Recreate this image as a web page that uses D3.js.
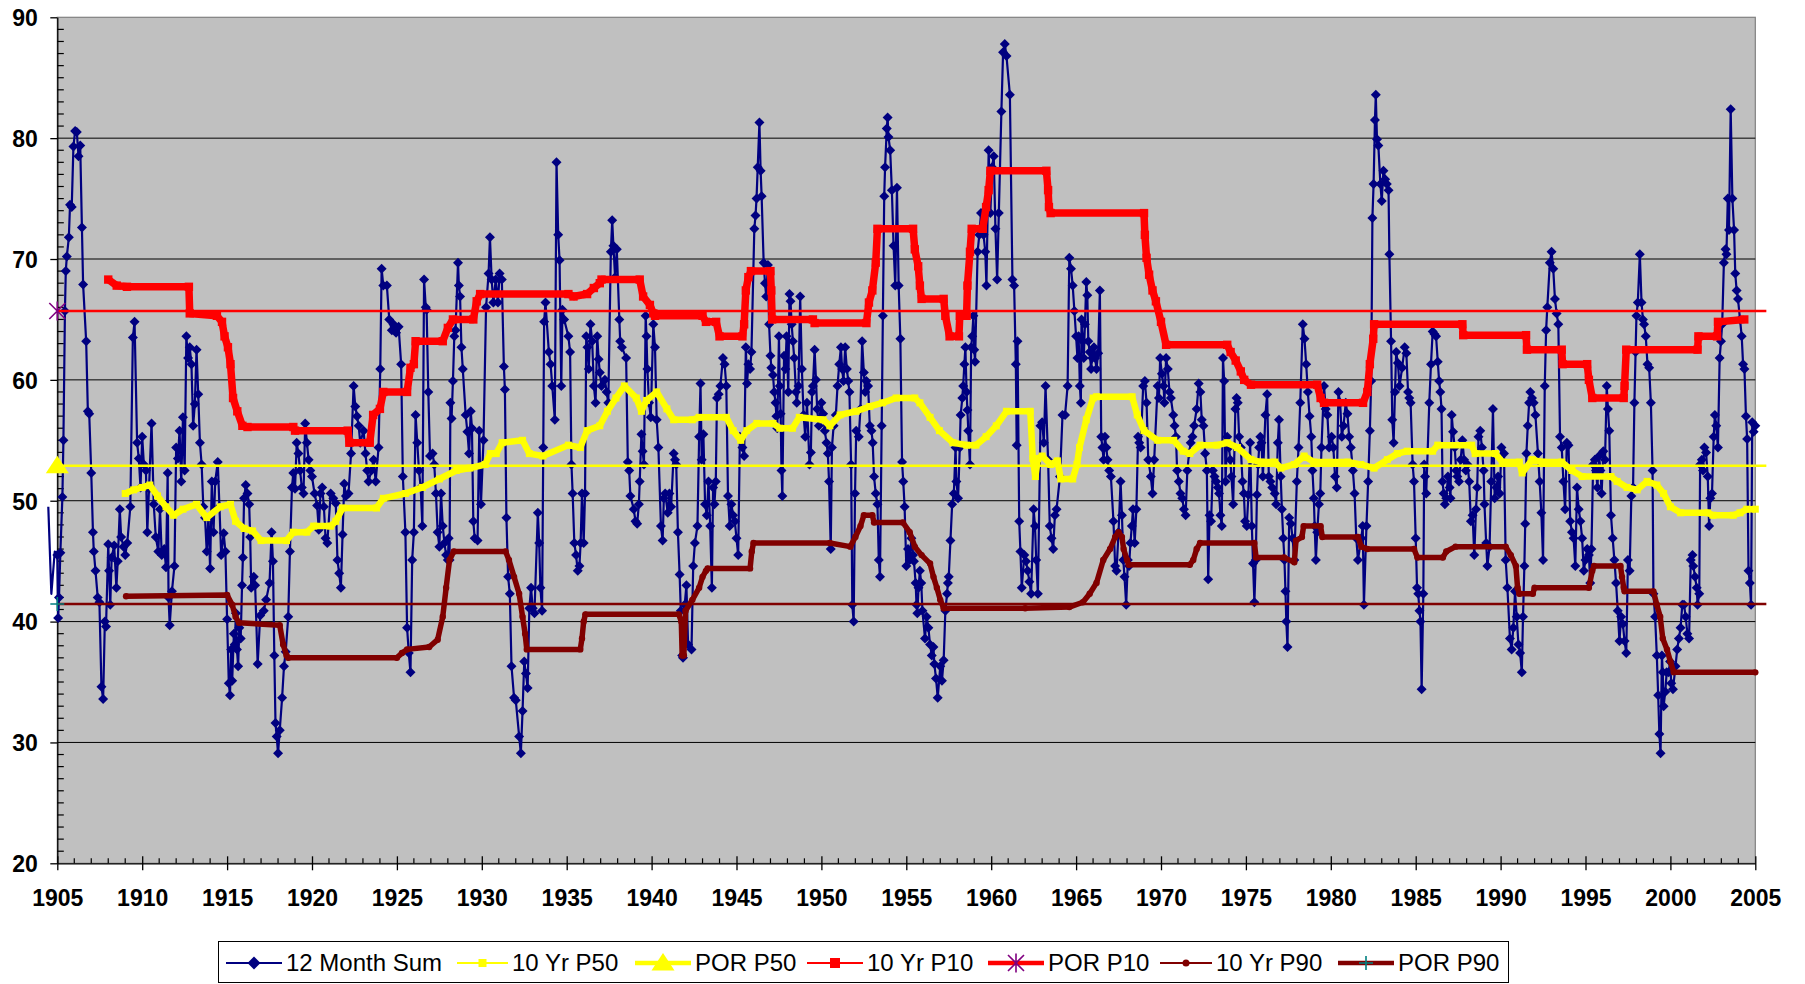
<!DOCTYPE html>
<html>
<head>
<meta charset="utf-8">
<script src="https://cdn.jsdelivr.net/npm/d3@7"></script>
<style>
  html, body { margin: 0; padding: 0; background: #ffffff; }
  svg { display: block; font-family: "Liberation Sans", Arial, sans-serif; }
</style>
</head>
<body>
<svg id="chart" width="1805" height="984"></svg>
<script>
// ---- data: [decimal year, value] ----
const monthSum = [
  [1904.47,49.5],[1904.65,42.3],[1904.85,45.8],
  [1905.0,45.5],[1905.05,40.3],[1905.1,42],[1905.18,45.7],[1905.3,50.3],[1905.36,55],[1905.45,65.7],[1905.5,69],[1905.56,70.2],[1905.68,71.8],[1905.75,74.5],[1905.85,74.3],[1905.95,79.3],[1906.05,80.6],[1906.15,80.5],[1906.25,78.5],[1906.35,79.4],[1906.45,72.6],[1906.52,67.9],[1906.7,63.2],[1906.8,57.4],[1906.88,57.2],[1907.0,52.3],[1907.1,47.4],[1907.15,45.8],[1907.25,44.2],[1907.38,42],[1907.48,41.6],[1907.6,34.6],[1907.7,33.6],[1907.8,40],[1907.87,39.6],[1908.0,46.4],[1908.05,44.2],[1908.12,41.4],[1908.2,45.3],[1908.35,46.3],[1908.48,42.8],[1908.56,45],[1908.68,49.3],[1908.76,47],[1908.9,46.2],[1909.0,45.5],[1909.12,46.5],[1909.3,49.5],[1909.45,63.5],[1909.55,64.8],[1909.7,54.8],[1909.8,53.5],[1909.9,51.1],
  [1910.0,55.3],[1910.1,53],[1910.22,52.5],[1910.3,47.4],[1910.4,51],[1910.55,56.4],[1910.68,49.7],[1910.8,47],[1910.95,45.8],[1911.05,49.3],[1911.15,45.5],[1911.3,46],[1911.4,44.5],[1911.5,52.3],[1911.55,42],[1911.62,39.7],[1911.75,42.5],[1911.9,44.6],[1912.0,54.4],[1912.1,53.5],[1912.2,55.8],[1912.3,51.6],[1912.4,56.9],[1912.5,52.5],[1912.6,63.6],[1912.7,61.8],[1912.8,62.7],[1912.9,61.3],[1913.0,56.2],[1913.1,58],[1913.2,62.5],[1913.3,58.8],[1913.4,54.8],[1913.5,53],[1913.6,49.5],[1913.7,48.6],[1913.8,45.8],[1913.9,48.6],[1914.0,44.4],[1914.1,51.6],[1914.2,47.4],[1914.3,51.6],[1914.45,53.2],[1914.55,49.5],[1914.65,45.5],[1914.8,47.3],[1914.9,45.8],[1915.0,40.2],[1915.1,34.9],[1915.17,33.9],[1915.24,37.7],[1915.3,35.1],[1915.4,39],[1915.45,38.1],
  [1915.52,40.7],[1915.58,37.7],[1915.65,36.3],[1915.72,39.5],[1915.8,38.6],[1915.88,43],[1915.93,45.3],[1916.0,50.2],[1916.1,51.3],[1916.2,50.6],[1916.3,49.7],[1916.36,47],[1916.42,42.8],[1916.57,43.7],[1916.65,43],[1916.8,36.5],[1916.95,40.5],[1917.16,40.9],[1917.3,41.8],[1917.5,43.2],[1917.62,47.4],[1917.7,45],[1917.78,37.2],[1917.85,31.6],[1917.92,30.5],[1918.0,29.1],[1918.1,31],[1918.24,33.7],[1918.35,36.3],[1918.45,37.5],[1918.6,40.4],[1918.7,45.8],[1918.82,51.1],[1918.9,52.3],[1919.0,51],[1919.1,54.8],[1919.2,53.9],[1919.3,52.5],[1919.4,51.1],[1919.5,50.6],[1919.6,56.4],[1919.7,54.8],[1919.8,53.4],[1919.9,52.5],[1920.0,52],[1920.15,50.6],[1920.3,49.6],[1920.4,47.6],[1920.5,50.6],[1920.6,51.1],[1920.7,49.5],[1920.8,46.9],[1920.9,46.5],[1921.1,50.6],[1921.25,50.2],[1921.4,49.8],[1921.5,45.1],[1921.6,44],[1921.7,42.8],[1921.8,47.2],[1921.9,51.4],[1922.0,50.4],[1922.15,50.6],[1922.3,53.9],[1922.45,59.5],[1922.55,57.8],[1922.65,57],[1922.75,56.2],[1922.84,54.8],[1923.04,55.8],[1923.15,53.9],[1923.25,52.5],[1923.33,51.6],[1923.5,52.5],[1923.63,53.4],[1923.75,51.6],[1923.92,54.4],[1924.02,60.9],[1924.1,69.2],[1924.2,67.8],[1924.41,67.8],[1924.55,65],[1924.7,64.1],[1924.8,64.6],[1924.95,63.9],[1925.1,64.4],[1925.25,61.3],[1925.35,52],[1925.5,47.4],[1925.6,39.5],[1925.7,37.4],[1925.8,35.8],
  [1925.9,45.1],[1926.0,47.4],[1926.1,57.1],[1926.2,54.8],[1926.3,52.5],[1926.4,51.1],[1926.5,47.9],[1926.6,68.3],[1926.7,66],[1926.75,65.8],[1926.85,59],[1926.95,53.7],[1927.1,53.9],[1927.2,53],[1927.3,50.6],[1927.4,47.4],[1927.5,46.2],[1927.6,50.6],[1927.7,47.9],[1927.8,46.5],[1927.9,45.5],[1928.0,45.1],[1928.05,46.9],[1928.1,45.1],[1928.15,58.1],[1928.22,56.8],[1928.3,59.9],[1928.38,63.6],[1928.45,64.1],[1928.6,69.7],[1928.65,67.8],[1928.72,66.9],[1928.8,62.7],[1928.88,60.9],[1929.05,57.1],[1929.15,55.7],[1929.25,53.9],[1929.35,57.4],[1929.42,56],[1929.5,48.3],[1929.58,46.9],[1929.75,46.7],[1929.85,55.8],[1929.95,49.7],[1930.1,55],[1930.25,66],[1930.4,68.8],[1930.48,71.8],[1930.58,68.3],[1930.68,66.4],[1930.82,68.3],[1930.95,66.4],[1931.05,68.8],[1931.18,68.3],[1931.3,61.1],[1931.36,59.2],[1931.45,48.6],[1931.55,43.7],[1931.65,42.3],[1931.75,36.3],[1931.9,33.7],[1932.0,33.5],[1932.2,30.5],[1932.3,29.1],[1932.4,32.6],[1932.5,36.7],[1932.6,35.7],[1932.7,34.5],[1932.8,41.1],[1932.9,42.8],[1933.0,41.1],[1933.1,40.7],[1933.3,49],[1933.38,46.5],[1933.45,42.8],[1933.55,40.9],[1933.62,54.4],[1933.67,64.8],[1933.75,66.4],[1933.95,62.3],[1934.05,61.3],[1934.15,59.5],[1934.3,56.7],[1934.4,78],[1934.5,72],[1934.58,69.9],[1934.68,59.5],[1934.75,65.8],[1934.85,65],[1935.1,63.6],[1935.2,62.3],[1935.28,53],[1935.35,50.6],[1935.45,46.5],[1935.55,45.5],[1935.65,44.2],
  [1935.75,44.6],[1935.82,46.5],[1935.9,50.6],[1936.0,46.5],[1936.08,50.6],[1936.15,63.6],[1936.22,62.7],[1936.3,60.9],[1936.4,64.6],[1936.5,63.2],[1936.6,59.5],[1936.7,58.1],[1936.8,63.6],[1936.88,61.7],[1936.95,60.6],[1937.05,59.5],[1937.25,60],[1937.35,59],[1937.45,58.1],[1937.6,70.6],[1937.68,73.2],[1937.75,71.1],[1937.85,68.5],[1937.95,70.8],[1938.1,65],[1938.15,63.2],[1938.25,62.7],[1938.5,61.8],[1938.6,53.2],[1938.68,52.5],[1938.75,50.4],[1938.95,49.3],[1939.05,48.3],[1939.15,48.1],[1939.25,49.7],[1939.3,51.6],[1939.4,55.5],[1939.47,54.1],[1939.55,53],[1939.65,65.3],[1939.7,63.6],[1939.75,60.9],[1939.85,58.1],[1939.95,56.9],[1940.1,64.6],[1940.2,62.7],[1940.3,56.7],[1940.4,54.4],[1940.55,47.9],[1940.65,46.7],[1940.72,50.2],[1940.8,50.6],[1940.95,49],[1941.05,50.6],[1941.15,49.5],[1941.3,53.9],[1941.38,53.4],[1941.45,53],[1941.55,47.4],[1941.65,43.9],[1941.72,40.9],[1941.8,37.2],[1941.85,37],[1941.95,41.4],[1942.05,43],[1942.15,38.1],[1942.35,37.7],[1942.45,44.6],[1942.55,46.5],[1942.7,47.9],[1942.8,55.3],[1942.88,59.7],[1942.95,53.4],[1943.05,55.5],[1943.15,49.7],[1943.25,48.8],[1943.35,51.6],[1943.45,47.9],[1943.55,42.8],[1943.62,51.1],[1943.7,49.7],[1943.78,51.6],[1943.85,58.5],[1943.95,58.8],[1944.05,59.5],[1944.2,61.8],[1944.3,61.3],[1944.4,59.5],[1944.5,50.4],[1944.6,47.9],[1944.7,49.7],[1944.8,48.8],[1944.9,48.3],[1945.0,46.9],[1945.1,45.5],[1945.2,55.3],[1945.35,54.4],[1945.45,53.7],[1945.55,62.7],
  [1945.62,59.7],[1945.7,61.3],[1945.8,60.9],[1945.88,62.3],[1946.05,72.5],[1946.12,73.6],[1946.18,75],[1946.25,77.6],[1946.35,81.3],[1946.42,77.3],[1946.48,75.2],[1946.6,69.7],[1946.68,68],[1946.75,66.9],[1946.85,69.5],[1946.92,64.6],[1947.0,62],[1947.05,61],[1947.15,60.4],[1947.22,59],[1947.3,58.1],[1947.35,57],[1947.4,56],[1947.5,63.6],[1947.55,59.5],[1947.6,57.2],[1947.65,52.5],[1947.7,50.4],[1947.8,62],[1947.88,60.9],[1947.95,63.6],[1948.05,59],[1948.12,67.1],[1948.18,66.5],[1948.25,64.6],[1948.32,63.2],[1948.4,61.8],[1948.5,59],[1948.55,58.1],[1948.65,59.5],[1948.75,66.9],[1948.85,60.9],[1948.95,57.1],[1949.05,55.3],[1949.15,58.1],[1949.3,53],[1949.38,54],[1949.45,59],[1949.5,59.5],[1949.6,62.5],[1949.68,60],[1949.75,57.6],[1949.85,56.2],[1950.0,58.1],[1950.1,57.2],[1950.2,55.8],[1950.3,54.8],[1950.38,53.9],[1950.45,51.6],[1950.55,46],[1950.62,54.4],[1950.72,56.2],[1950.85,57.1],[1950.95,59.5],[1951.05,61.3],[1951.15,62.7],[1951.22,60.9],[1951.3,59.9],[1951.4,62.7],[1951.5,60.9],[1951.58,59.9],[1951.65,59],[1951.75,53],[1951.82,41.4],[1951.9,40],[1951.98,50.6],[1952.05,55.8],[1952.2,55.3],[1952.3,57.6],[1952.4,63.2],[1952.5,60.6],[1952.58,59],[1952.65,59.9],[1952.75,59.5],[1952.85,56.2],[1952.95,55.8],[1953.02,54.8],[1953.1,52],[1953.2,50.6],[1953.3,49.7],[1953.38,45.1],[1953.45,43.7],[1953.55,56.2],[1953.62,65.3],[1953.7,75.2],[1953.75,77.6],[1953.85,80.8],[1953.9,81.7],[1953.95,80.1],[1954.05,79],[1954.15,75.7],[1954.25,71.1],[1954.35,67.8],[1954.45,75.9],[1954.55,67.8],[1954.65,63.4],[1954.75,53.2],[1954.82,51.6],[1954.9,49.5],[1955.0,44.6],[1955.1,46],[1955.2,45.1],[1955.3,46.9],[1955.4,45.5],[1955.45,45],[1955.55,43.2],
  [1955.6,41.4],[1955.65,40.7],[1955.72,42.8],[1955.8,44.2],[1955.88,43.2],[1955.95,40.9],[1956.1,38.6],[1956.2,40.4],[1956.3,39.5],[1956.4,38.1],[1956.5,37.2],[1956.6,37.9],[1956.65,36.5],[1956.75,35.3],[1956.85,33.7],[1957.0,36.3],[1957.1,35.1],[1957.2,36.8],[1957.3,40.9],[1957.4,42.3],[1957.45,43.2],[1957.5,43.7],[1957.6,46.7],[1957.7,49.7],[1957.8,50.6],[1957.9,54.4],[1957.95,51.6],[1958.05,50.2],[1958.15,54.4],[1958.2,57.1],[1958.3,58.5],[1958.35,59.5],[1958.42,61.3],[1958.48,62.7],[1958.55,59],[1958.6,57.5],[1958.65,55.8],[1958.75,53],[1958.82,62.7],[1958.88,63.6],[1958.95,65.3],[1959.0,62.5],[1959.05,61.5],[1959.2,70.6],[1959.3,72],[1959.4,73.8],[1959.55,72],[1959.65,70.6],[1959.72,67.8],[1959.85,79],[1959.95,73.8],[1960.05,77.6],[1960.15,78.5],[1960.25,72.5],[1960.35,68.3],[1960.45,73.8],[1960.6,82.2],[1960.7,87.1],[1960.8,87.8],[1960.9,86.8],[1961.1,83.6],[1961.25,68.3],[1961.35,67.8],[1961.45,61.3],[1961.5,54.6],[1961.55,63.2],[1961.65,48.3],[1961.72,45.8],[1961.8,42.8],[1961.95,45.5],[1962.05,45],[1962.15,44.2],[1962.25,43.3],[1962.35,42.3],[1962.5,49.3],[1962.58,47.9],[1962.65,45.1],[1962.75,42.3],[1962.9,56.2],[1963.0,56.5],[1963.1,54.8],[1963.2,59.5],[1963.35,53.4],[1963.45,47.9],[1963.55,46.9],[1963.65,46],[1963.75,48.8],[1963.85,49.3],[1964.05,52],[1964.2,57.1],[1964.35,57.1],[1964.5,59.5],[1964.6,70.1],[1964.7,69.2],[1964.8,67.8],[1964.9,65.7],[1965.0,63.6],[1965.08,61.8],
  [1965.15,63.6],[1965.22,59.5],[1965.28,58.1],[1965.32,65],[1965.4,63.2],[1965.45,61.8],[1965.52,64.6],[1965.6,68.1],[1965.66,67],[1965.72,63.2],[1965.8,62.3],[1965.88,60.9],[1965.95,61.8],[1966.05,62.7],[1966.12,61.8],[1966.2,60.9],[1966.3,62.2],[1966.4,67.4],[1966.48,55.3],[1966.55,54.4],[1966.62,53.4],[1966.7,55.3],[1966.78,54.4],[1966.85,53.4],[1966.95,52.5],[1967.05,52],[1967.2,48.3],[1967.3,44.6],[1967.38,44.2],[1967.5,47.4],[1967.62,51.6],[1967.7,48.8],[1967.78,45.1],[1967.85,43.7],[1967.95,41.4],[1968.05,45.1],[1968.12,44.6],[1968.2,46.5],[1968.28,47.9],[1968.35,49.3],[1968.45,46.5],[1968.55,49.3],[1968.65,55.3],[1968.72,54.8],[1968.8,54.4],[1968.95,59.5],[1969.05,59.9],[1969.15,58.1],[1969.25,53.4],[1969.4,52],[1969.5,50.6],[1969.6,53.4],[1969.8,59.5],[1969.88,58.5],[1969.95,61.8],[1970.05,60.5],[1970.15,59.5],[1970.2,58.1],[1970.3,61.8],[1970.4,60.9],[1970.5,59],[1970.58,58.5],[1970.72,57.1],[1970.8,56.2],[1970.88,55.3],[1970.95,52.5],[1971.05,51.6],[1971.15,50.6],[1971.25,50.2],[1971.35,49.3],[1971.45,48.8],[1971.55,52.5],[1971.65,53.9],[1971.75,54.8],[1971.85,55.3],[1971.95,56.2],[1972.1,57.6],[1972.22,59.7],[1972.32,59],[1972.4,56.7],[1972.5,56.2],[1972.6,53.9],[1972.7,52.5],[1972.78,43.5],[1972.86,48.8],[1972.95,48.3],[1973.05,52.5],[1973.15,52],[1973.25,51.6],[1973.35,51.1],[1973.42,50.6],[1973.5,48.8],[1973.58,47.9],[1973.65,61.8],[1973.72,59.9],[1973.8,51.6],[1973.9,55.3],[1974.0,54.4],[1974.08,53.4],[1974.15,52],[1974.25,49.7],[1974.38,57.6],[1974.45,58.5],[1974.52,58.1],[1974.6,55.3],[1974.7,54.4],[1974.8,51.6],[1974.88,50.6],[1974.95,48.3],[1975.05,47.9],[1975.15,50.5],[1975.25,54.8],[1975.35,47.9],[1975.42,44.8],[1975.5,41.6],[1975.58,45.1],[1975.65,50.5],
  [1975.72,53],[1975.78,54.4],[1975.85,55.3],[1975.92,54.8],[1976.0,52],[1976.15,57.1],[1976.25,58.8],[1976.35,52],[1976.45,51.6],[1976.55,51.1],[1976.7,50.6],[1976.78,49.7],[1976.88,54.8],[1976.95,56.7],[1977.05,52],[1977.12,49.3],[1977.2,46.9],[1977.27,45.1],[1977.33,42.5],[1977.38,40],[1977.45,37.9],[1977.55,48.6],[1977.65,48.1],[1977.75,46.9],[1977.85,45.1],[1978.0,51.6],[1978.1,54.4],[1978.2,58.1],[1978.35,64.6],[1978.45,63.4],[1978.55,61.3],[1978.65,59],[1978.75,57],[1978.85,55.3],[1978.92,52.5],[1979.0,50.2],[1979.05,47.9],[1979.12,45.1],[1979.2,47.4],[1979.3,49.7],[1979.38,50.6],[1979.45,54.4],[1979.6,59.5],[1979.7,57.6],[1979.8,57.1],[1979.9,54.4],[1980.05,55.3],[1980.15,54.4],[1980.25,52],[1980.35,51.1],[1980.45,59],[1980.55,58.1],[1980.65,55.3],[1980.75,56.2],[1980.88,58.1],[1980.98,57.2],[1981.08,55.3],[1981.18,54.4],[1981.3,52.5],[1981.4,50.6],[1981.5,46.9],[1981.6,45.1],[1981.8,46.9],[1981.88,47.9],[1981.95,41.4],[1982.1,47.9],[1982.2,51.6],[1982.3,55.8],[1982.38,59.9],[1982.45,73.4],[1982.52,76.2],[1982.6,81.5],[1982.65,83.6],[1982.72,79.9],[1982.8,79.4],[1982.92,76.2],[1983.0,74.8],[1983.1,77.3],[1983.2,76.6],[1983.3,76.2],[1983.4,75.7],[1983.45,70.4],[1983.55,63.2],[1983.62,56.7],[1983.7,54.8],[1983.78,59],[1983.85,62.3],[1983.95,61.4],[1984.05,59.5],[1984.2,61],[1984.35,62.7],[1984.45,62.2],[1984.55,59],[1984.62,58.5],[1984.7,58.1],[1984.82,53],[1984.9,51.6],[1985.0,46.9],[1985.08,42.8],[1985.15,42.3],[1985.22,40.9],[1985.28,40],[1985.35,34.4],[1985.45,42.3],[1985.5,53],[1985.55,52],[1985.62,50.6],
  [1985.8,58.1],[1985.9,61.3],[1986.0,64],[1986.1,63.8],[1986.2,63.6],[1986.3,61.5],[1986.38,59.9],[1986.45,59],[1986.52,57.6],[1986.58,51.6],[1986.65,50.6],[1986.72,49.7],[1986.8,50.2],[1986.9,52],[1987.0,51.1],[1987.05,50.2],[1987.12,57.1],[1987.2,55.7],[1987.3,54.4],[1987.38,52.5],[1987.45,52],[1987.55,51.6],[1987.65,53.4],[1987.75,55],[1987.85,53.4],[1987.95,52.5],[1988.05,53],[1988.15,51.6],[1988.25,48.3],[1988.35,48.8],[1988.45,45.5],[1988.55,49.3],[1988.62,51.1],[1988.7,55.3],[1988.8,55.8],[1988.9,54.4],[1989.0,52.5],[1989.05,49.7],[1989.15,46.5],[1989.22,44.6],[1989.35,46.2],[1989.45,51.6],[1989.55,57.6],[1989.65,50.2],[1989.75,51.1],[1989.85,52],[1989.95,50.6],[1990.05,54.4],[1990.2,53.9],[1990.3,45.1],[1990.4,42.8],[1990.55,38.6],[1990.65,37.7],[1990.75,39.5],[1990.85,42.5],[1990.95,40.4],[1991.05,38.1],[1991.15,37.4],[1991.25,35.8],[1991.32,40.4],[1991.4,44.6],[1991.45,48.1],[1991.52,53.9],[1991.6,56.2],[1991.68,58.1],[1991.75,59],[1991.85,58.5],[1991.95,58.1],[1992.05,57.1],[1992.2,53.9],[1992.3,51.6],[1992.4,49],[1992.5,45.1],[1992.6,59.5],[1992.68,64.1],[1992.75,66],[1992.9,69.7],[1993.0,70.6],[1993.1,69.2],[1993.2,66.7],[1993.3,65.5],[1993.4,64.6],[1993.5,55.3],[1993.6,54.4],[1993.7,51.6],[1993.8,49.3],[1993.9,54.8],[1994.0,54.6],[1994.1,48.3],[1994.2,47.4],[1994.3,46.9],[1994.4,44.6],[1994.5,51.1],[1994.6,49.3],[1994.7,48.3],[1994.8,46.9],[1994.9,44.2],[1995.0,45.1],[1995.1,46],[1995.2,45.5],[1995.28,43.2],[1995.35,46],[1995.45,53],[1995.55,53.4],[1995.62,52.5],
  [1995.7,51.1],[1995.8,53.7],[1995.88,52.5],[1995.95,50.6],[1996.05,54.1],[1996.15,53.4],[1996.25,59.5],[1996.32,57.6],[1996.4,55.8],[1996.5,48.8],[1996.6,46.9],[1996.7,45.1],[1996.8,43.2],[1996.9,40.9],[1997.0,38.4],[1997.1,40.4],[1997.2,39.8],[1997.3,38.4],[1997.4,37.4],[1997.5,45.1],[1997.6,44.2],[1997.7,50.4],[1997.8,51.1],[1997.88,58.1],[1997.95,62.3],[1998.0,65.3],[1998.08,66.4],[1998.2,70.4],[1998.3,66.4],[1998.38,65],[1998.45,64.6],[1998.55,63.6],[1998.65,61.3],[1998.75,61],[1998.85,58.1],[1998.95,52.5],[1999.0,42.3],[1999.1,40.4],[1999.2,37.2],[1999.28,33.9],[1999.35,30.7],[1999.42,29.1],[1999.5,37.2],[1999.55,35.8],[1999.6,33],[1999.7,34.2],[1999.78,35.8],[1999.9,35.8],[1999.98,36.7],[2000.05,34.9],[2000.15,34.4],[2000.3,36.3],[2000.4,37.7],[2000.5,38.6],[2000.6,39.5],[2000.7,41.4],[2000.8,41.4],[2000.9,40.4],[2001.0,39],[2001.1,38.6],[2001.2,45.1],[2001.3,45.5],[2001.35,44.6],[2001.45,43.7],[2001.55,42.8],[2001.6,41.4],[2001.7,42.3],[2001.75,53],[2001.85,53.4],[2001.92,52.5],[2002.0,54.4],[2002.1,54],[2002.2,52],[2002.28,47.9],[2002.35,50.2],[2002.45,50.6],[2002.55,55.3],[2002.62,57.1],[2002.7,56.2],[2002.8,54.4],[2002.9,61.8],[2002.98,63.2],[2003.05,64.6],[2003.15,69.7],[2003.25,70.8],[2003.3,70.4],[2003.38,75],[2003.45,72.4],[2003.55,82.4],[2003.65,75],[2003.75,72.4],[2003.82,68.8],[2003.9,67.4],[2003.98,66.7],[2004.1,65],[2004.2,63.6],[2004.28,61.3],[2004.36,60.9],[2004.45,57],[2004.52,55.1],[2004.6,44.2],[2004.68,43.2],[2004.75,41.4],[2004.82,56.5],[2004.9,55.7],[2005.0,56.2]
];

const tenYearP50 = [
  [1909.0,50.6],[1909.5,50.9],[1910.0,51.1],[1910.45,51.3],[1910.9,50.4],[1911.4,49.5],[1911.85,48.8],[1912.4,49.3],[1913.2,49.7],[1913.8,48.6],[1914.6,49.5],[1915.2,49.7],[1915.5,48.3],[1916.0,47.7],[1916.5,47.5],[1917.0,46.7],[1918.5,46.7],[1918.9,47.4],[1919.7,47.4],[1920.1,47.9],[1921.1,47.9],[1921.4,48.3],[1921.8,49.4],[1923.8,49.4],[1924.2,50.2],[1925.5,50.6],[1926.5,51.1],[1927.5,51.8],[1928.5,52.5],[1929.3,52.7],[1930.2,53],[1930.5,53.9],[1930.85,53.9],[1931.2,54.8],[1932.4,55],[1932.8,53.9],[1933.6,53.7],[1935.1,54.6],[1935.8,54.4],[1936.2,55.8],[1936.95,56.2],[1937.4,57.4],[1937.9,58.5],[1938.4,59.5],[1939.1,58.5],[1939.4,57.4],[1939.7,58.3],[1940.3,59],[1940.9,57.6],[1941.3,56.7],[1942.4,56.7],[1942.8,56.9],[1944.4,56.9],[1944.8,55.8],[1945.25,55],[1945.6,55.8],[1946.2,56.4],[1947.15,56.4],[1947.55,56],[1948.3,56],[1948.7,56.9],[1950.1,56.7],[1950.5,56.2],[1951.1,57.1],[1952.05,57.4],[1952.85,57.8],[1953.6,58.1],[1954.4,58.5],[1955.5,58.5],[1955.8,58.1],[1956.4,56.9],[1956.95,55.8],[1957.75,54.8],[1958.55,54.6],[1959.1,54.6],[1959.7,55.3],[1960.3,56.2],[1960.9,57.4],[1962.3,57.4],[1962.45,53.5],[1962.6,52],[1962.75,53.5],[1963.0,53.7],[1963.5,53],[1963.9,53.3],[1964.1,51.8],[1964.8,51.8],[1965.05,53],[1965.2,54.4],[1965.6,56.7],[1966.0,58.5],[1966.2,58.6],[1968.3,58.6],[1968.6,57.1],[1969.0,55.8],[1969.8,55],[1970.75,55],[1971.3,54.1],[1971.7,53.9],[1972.3,54.6],[1973.3,54.6],[1973.9,54.8],[1974.5,54.4],[1975.3,53.4],[1975.9,53.2],[1976.7,53.2],[1977.06,52.7],[1977.85,53],[1978.43,53.7],[1979.0,53.2],[1981.0,53.2],[1981.76,53],[1982.55,52.7],[1983.33,53.4],[1983.92,53.9],[1984.5,54.1],[1986.0,54.1],[1986.3,54.6],[1988.3,54.6],[1988.5,53.9],[1989.7,53.9],[1990.1,53.2],[1991.1,53.2],[1991.27,52.3],[1991.86,53.4],[1992.45,53.2],[1993.6,53.2],[1994.2,52.5],[1994.8,52],[1996.5,52],[1996.86,51.6],[1997.45,51.1],[1998.04,50.9],[1998.63,51.6],[1999.2,51.3],[1999.6,50.6],[2000.0,49.5],[2000.6,49],[2002.2,49],[2002.5,48.8],[2003.7,48.8],[2004.1,49],[2004.5,49.3],[2005.0,49.3]
];

const tenYearP10 = [
  [1908.0,68.3],[1908.5,67.8],[1909.1,67.7],[1912.75,67.7],[1912.8,65.5],[1914.4,65.3],[1914.7,64.8],[1914.85,63.6],[1915.05,62.7],[1915.2,61.3],[1915.35,58.5],[1915.6,57.4],[1915.9,56.2],[1916.2,56.1],[1918.9,56.1],[1919.0,55.8],[1922.1,55.8],[1922.2,54.8],[1923.4,54.8],[1923.6,57.1],[1924.0,57.6],[1924.2,59],[1925.6,59],[1925.8,61],[1926.0,61.3],[1926.1,63.2],[1927.7,63.2],[1928.0,64.3],[1928.3,65],[1929.5,65],[1929.7,66.5],[1929.9,67.1],[1935.1,67.1],[1935.4,66.9],[1936.2,67.1],[1936.6,67.6],[1936.95,68.0],[1937.05,68.3],[1939.3,68.3],[1939.5,66.9],[1939.9,66.2],[1940.1,65.5],[1940.2,65.3],[1943.0,65.3],[1943.2,64.8],[1943.8,64.8],[1944.0,63.6],[1945.35,63.6],[1945.45,64.6],[1945.55,67.4],[1945.7,68.5],[1945.85,69],[1947.0,69],[1947.05,67.4],[1947.1,65],[1949.5,65],[1949.6,64.7],[1952.65,64.7],[1952.8,66.4],[1953.0,67.4],[1953.2,69.7],[1953.3,72.5],[1955.4,72.5],[1955.5,70.8],[1955.7,69.4],[1955.8,67.8],[1955.9,66.7],[1957.2,66.7],[1957.3,65.3],[1957.55,63.6],[1958.1,63.6],[1958.15,65.3],[1958.55,65.3],[1958.6,67.8],[1958.75,70.6],[1958.85,72.5],[1959.5,72.5],[1959.7,74.3],[1959.85,75.7],[1959.95,77.3],[1963.25,77.3],[1963.35,75.7],[1963.4,74.3],[1963.5,73.8],[1969.0,73.8],[1969.05,72],[1969.15,70.1],[1969.3,68.7],[1969.5,67.4],[1969.7,66.5],[1970.0,64.8],[1970.3,62.9],[1973.9,62.9],[1974.1,62.3],[1974.4,61.6],[1974.7,60.7],[1974.9,60],[1975.3,59.6],[1979.2,59.6],[1979.4,58.5],[1979.6,58.1],[1981.9,58.1],[1982.15,59],[1982.3,61.3],[1982.5,63.4],[1982.55,64.6],[1987.75,64.6],[1987.8,63.7],[1991.5,63.7],[1991.55,62.5],[1993.6,62.5],[1993.65,61.3],[1995.1,61.3],[1995.2,60],[1995.4,58.5],[1997.25,58.5],[1997.3,59.5],[1997.4,62.5],[2001.6,62.5],[2001.65,63.6],[2002.75,63.6],[2002.8,64.8],[2004.35,65]
];

const tenYearP90 = [
  [1909.05,42.1],[1915.0,42.2],[1915.3,41.4],[1915.5,40.4],[1915.7,39.9],[1918.1,39.7],[1918.3,38.1],[1918.5,37.2],[1918.6,37],[1925.0,37],[1925.3,37.4],[1925.6,37.7],[1926.9,37.9],[1927.4,38.5],[1927.7,40.4],[1927.9,42.8],[1928.1,45.1],[1928.35,45.8],[1931.4,45.8],[1931.6,45.1],[1931.9,43.7],[1932.2,42.3],[1932.4,40.4],[1932.55,39],[1932.65,37.7],[1935.8,37.7],[1935.9,38.6],[1936.0,40],[1936.1,40.6],[1941.6,40.6],[1941.75,40],[1941.8,37.2],[1941.9,37.2],[1942.0,40.9],[1942.4,41.8],[1942.8,42.8],[1943.0,43.7],[1943.2,44.2],[1943.3,44.4],[1945.8,44.4],[1945.9,45.8],[1946.0,46.5],[1950.5,46.5],[1951.7,46.2],[1952.0,47],[1952.3,47.9],[1952.5,48.8],[1953.0,48.8],[1953.1,48.2],[1954.8,48.2],[1955.2,47.4],[1955.5,46.2],[1955.9,45.5],[1956.4,44.8],[1956.6,43.7],[1956.8,42.8],[1957.0,41.8],[1957.2,41.1],[1962.0,41.1],[1964.6,41.2],[1965.4,41.6],[1965.8,42.3],[1966.2,43.2],[1966.6,45.1],[1967.0,46],[1967.3,47],[1967.5,47.4],[1967.7,47],[1967.8,46],[1968.0,45.1],[1968.1,44.7],[1971.7,44.7],[1971.9,45.1],[1972.1,46],[1972.3,46.5],[1975.5,46.5],[1975.6,45.3],[1977.25,45.3],[1977.85,44.9],[1977.95,46.7],[1978.3,47],[1978.4,47.9],[1979.4,47.9],[1979.5,47],[1981.6,47],[1981.8,46.2],[1982.15,46],[1984.9,46],[1985.1,45.3],[1986.6,45.3],[1986.8,45.8],[1987.35,46.2],[1990.3,46.2],[1990.6,45.5],[1990.9,44.6],[1991.0,42.8],[1991.1,42.3],[1991.9,42.3],[1992.0,42.8],[1995.2,42.8],[1995.4,44.2],[1995.5,44.6],[1997.06,44.6],[1997.15,43.7],[1997.25,42.8],[1997.3,42.5],[1999.0,42.5],[1999.2,41.4],[1999.4,40.4],[1999.55,38.6],[1999.8,37.7],[2000.0,36.7],[2000.2,35.8],[2005.0,35.8]
];

// period-of-record percentiles (constant over the record)
const porP50 = 52.9;
const porP10 = 65.7;
const porP90 = 41.45;
const porYears = [1905, 2005.65];

const yearTicks = d3.range(1905, 2006, 5);
const valueTicks = d3.range(20, 91, 10);
const legendLabels = ["12 Month Sum", "10 Yr P50", "POR P50", "10 Yr P10", "POR P10", "10 Yr P90", "POR P90"];

// ---- layout ----
const svg = d3.select("#chart");
const plotLeft = 57.3, plotRight = 1755.3, plotTop = 17.3, plotBottom = 863.3;
const x = d3.scaleLinear().domain([1905, 2005]).range([plotLeft, plotRight]);
const y = d3.scaleLinear().domain([20, 90]).range([plotBottom, plotTop]);

const NAVY = "#000080", YELLOW = "#ffff00", RED = "#ff0000", MAROON = "#800000",
      PURPLE = "#800080", TEAL = "#008080";

// plot area
svg.append("rect")
  .attr("x", plotLeft).attr("y", plotTop)
  .attr("width", plotRight - plotLeft).attr("height", plotBottom - plotTop)
  .attr("fill", "#c0c0c0").attr("stroke", "#808080").attr("stroke-width", 1.2);

// horizontal gridlines
svg.append("g").selectAll("line")
  .data(valueTicks.filter(v => v > 20 && v < 90))
  .join("line")
  .attr("x1", plotLeft).attr("x2", plotRight)
  .attr("y1", d => y(d)).attr("y2", d => y(d))
  .attr("stroke", "#000").attr("stroke-width", 1);

// axes
const xAxis = svg.append("g")
  .attr("transform", `translate(0,${plotBottom})`)
  .call(d3.axisBottom(x).tickValues(yearTicks).tickFormat(d3.format("d")).tickSizeOuter(0));
xAxis.select(".domain").attr("stroke", "#000").attr("stroke-width", 1.3);
xAxis.selectAll(".tick line").attr("y1", -7).attr("y2", 7).attr("stroke", "#000").attr("stroke-width", 1.3);
xAxis.selectAll(".tick text")
  .attr("y", 43).attr("dy", 0)
  .attr("fill", "#000").style("font-size", "23px").style("font-weight", "bold")
  .style("font-family", '"Liberation Sans", Arial, sans-serif');

const yAxis = svg.append("g")
  .attr("transform", `translate(${plotLeft},0)`)
  .call(d3.axisLeft(y).tickValues(valueTicks).tickSize(7).tickSizeOuter(0));
yAxis.select(".domain").attr("stroke", "#000").attr("stroke-width", 1.3);
yAxis.selectAll(".tick line").attr("stroke", "#000").attr("stroke-width", 1.3);
yAxis.selectAll(".tick text")
  .attr("x", -19.5).attr("dy", "0.36em")
  .attr("fill", "#000").style("font-size", "23px").style("font-weight", "bold")
  .style("font-family", '"Liberation Sans", Arial, sans-serif');

// minor ticks
svg.append("g").selectAll("line")
  .data(d3.range(1906, 2005).filter(v => v % 5 !== 0))
  .join("line")
  .attr("x1", d => x(d)).attr("x2", d => x(d))
  .attr("y1", plotBottom - 5).attr("y2", plotBottom)
  .attr("stroke", "#000").attr("stroke-width", 1.2);
svg.append("g").selectAll("line")
  .data(d3.range(21, 90).filter(v => v % 10 !== 0))
  .join("line")
  .attr("x1", plotLeft).attr("x2", plotLeft + 6.5)
  .attr("y1", d => y(d)).attr("y2", d => y(d))
  .attr("stroke", "#000").attr("stroke-width", 1.2);

const line = d3.line().x(d => x(d[0])).y(d => y(d[1]));
const diamond = s => `M0,${-s}L${s},0L0,${s}L${-s},0Z`;
const square = s => `M${-s},${-s}H${s}V${s}H${-s}Z`;
const triangle = s => `M0,${-s}L${s * 1.15},${s * 0.75}L${-s * 1.15},${s * 0.75}Z`;
const asterisk = s => `M${-s},${-s}L${s},${s}M${-s},${s}L${s},${-s}M0,${-s * 1.2}V${s * 1.2}`;
const plus = s => `M${-s},0H${s}M0,${-s}V${s}`;

// 12 Month Sum
svg.append("path").datum(monthSum)
  .attr("d", line).attr("fill", "none")
  .attr("stroke", NAVY).attr("stroke-width", 2.2).attr("stroke-linejoin", "round");
svg.append("g").selectAll("path")
  .data(monthSum.filter(d => d[0] >= 1905))
  .join("path")
  .attr("transform", d => `translate(${x(d[0])},${y(d[1])})`)
  .attr("d", diamond(5)).attr("fill", NAVY);

// 10 Yr P50
svg.append("path").datum(tenYearP50)
  .attr("d", line).attr("fill", "none")
  .attr("stroke", YELLOW).attr("stroke-width", 6.5).attr("stroke-linejoin", "round");
svg.append("g").selectAll("path")
  .data(tenYearP50).join("path")
  .attr("transform", d => `translate(${x(d[0])},${y(d[1])})`)
  .attr("d", square(3.5)).attr("fill", YELLOW);

// POR P50
svg.append("line")
  .attr("x1", x(porYears[0])).attr("x2", x(porYears[1]))
  .attr("y1", y(porP50)).attr("y2", y(porP50))
  .attr("stroke", YELLOW).attr("stroke-width", 2.6);
svg.append("path")
  .attr("transform", `translate(${x(porYears[0])},${y(porP50)})`)
  .attr("d", triangle(10)).attr("fill", YELLOW);

// 10 Yr P10
svg.append("path").datum(tenYearP10)
  .attr("d", line).attr("fill", "none")
  .attr("stroke", RED).attr("stroke-width", 7.5).attr("stroke-linejoin", "round");
svg.append("g").selectAll("path")
  .data(tenYearP10).join("path")
  .attr("transform", d => `translate(${x(d[0])},${y(d[1])})`)
  .attr("d", square(4.2)).attr("fill", RED);

// POR P10
svg.append("line")
  .attr("x1", x(porYears[0])).attr("x2", x(porYears[1]))
  .attr("y1", y(porP10)).attr("y2", y(porP10))
  .attr("stroke", RED).attr("stroke-width", 2.6);
svg.append("path")
  .attr("transform", `translate(${x(porYears[0])},${y(porP10)})`)
  .attr("d", asterisk(8)).attr("fill", "none").attr("stroke", PURPLE).attr("stroke-width", 1.6);

// 10 Yr P90
svg.append("path").datum(tenYearP90)
  .attr("d", line).attr("fill", "none")
  .attr("stroke", MAROON).attr("stroke-width", 5.5).attr("stroke-linejoin", "round");
svg.append("g").selectAll("circle")
  .data(tenYearP90).join("circle")
  .attr("cx", d => x(d[0])).attr("cy", d => y(d[1])).attr("r", 3.2)
  .attr("fill", MAROON);

// POR P90
svg.append("line")
  .attr("x1", x(porYears[0])).attr("x2", x(porYears[1]))
  .attr("y1", y(porP90)).attr("y2", y(porP90))
  .attr("stroke", MAROON).attr("stroke-width", 2.6);
svg.append("path")
  .attr("transform", `translate(${x(porYears[0])},${y(porP90)})`)
  .attr("d", plus(7)).attr("fill", "none").attr("stroke", TEAL).attr("stroke-width", 1.6);

// ---- legend ----
const legend = svg.append("g");
legend.append("rect")
  .attr("x", 218.5).attr("y", 941.5).attr("width", 1290).attr("height", 41)
  .attr("fill", "#fff").attr("stroke", "#000").attr("stroke-width", 1);

const legendY = 963;
const legendSpec = [
  { x0: 226, x1: 282, color: NAVY,   w: 2.2, mark: g => g.append("path").attr("d", diamond(6.5)).attr("fill", NAVY) },
  { x0: 457, x1: 508, color: YELLOW, w: 2.2, mark: g => g.append("path").attr("d", square(4)).attr("fill", YELLOW) },
  { x0: 635, x1: 691, color: YELLOW, w: 4.5, mark: g => g.append("path").attr("d", triangle(10)).attr("fill", YELLOW) },
  { x0: 807, x1: 863, color: RED,    w: 2.2, mark: g => g.append("path").attr("d", square(5)).attr("fill", RED) },
  { x0: 988, x1: 1044, color: RED,   w: 4.5, mark: g => g.append("path").attr("d", asterisk(8)).attr("fill", "none").attr("stroke", PURPLE).attr("stroke-width", 1.6) },
  { x0: 1160, x1: 1212, color: MAROON, w: 2.2, mark: g => g.append("circle").attr("r", 3.5).attr("fill", MAROON) },
  { x0: 1338, x1: 1394, color: MAROON, w: 4.5, mark: g => g.append("path").attr("d", plus(7)).attr("fill", "none").attr("stroke", TEAL).attr("stroke-width", 1.6) }
];
legendLabels.forEach((label, i) => {
  const s = legendSpec[i];
  legend.append("line")
    .attr("x1", s.x0).attr("x2", s.x1).attr("y1", legendY).attr("y2", legendY)
    .attr("stroke", s.color).attr("stroke-width", s.w);
  const m = legend.append("g").attr("transform", `translate(${(s.x0 + s.x1) / 2},${legendY})`);
  s.mark(m);
  legend.append("text")
    .attr("x", s.x1 + 4).attr("y", legendY + 8)
    .attr("fill", "#000").style("font-size", "24px")
    .text(label);
});
</script>
</body>
</html>
